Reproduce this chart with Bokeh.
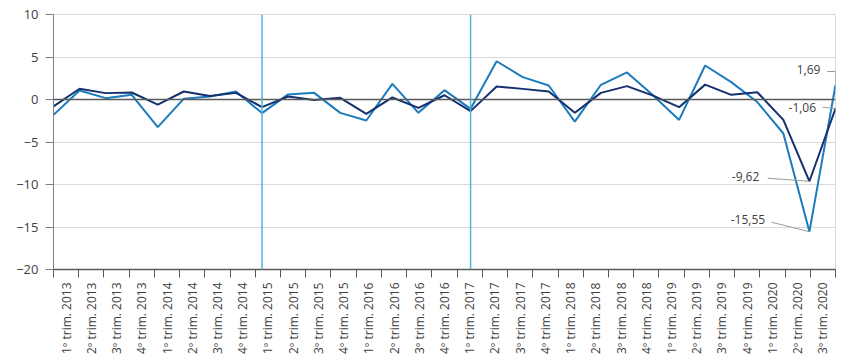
import math
from bokeh.plotting import figure
from bokeh.models import Range1d, FixedTicker, Span, ColumnDataSource
from bokeh.embed import file_html
from bokeh.resources import INLINE
from bokeh.core.properties import value

# ---- data ----
years = [2013, 2014, 2015, 2016, 2017, 2018, 2019, 2020]
quarter_labels = [f"{q}º trim. {y}" for y in years for q in range(1, 5)][:31]

series_dark = [-0.80, 1.26, 0.75, 0.82, -0.60, 0.94, 0.40, 0.78, -0.90, 0.35,
               -0.05, 0.20, -1.70, 0.24, -0.98, 0.50, -1.37, 1.53, 1.25, 0.94,
               -1.55, 0.78, 1.57, 0.45, -0.90, 1.75, 0.55, 0.86, -2.40, -9.62,
               -1.06]
series_light = [-1.80, 1.06, 0.16, 0.55, -3.25, 0.10, 0.35, 0.94, -1.60, 0.60,
                0.78, -1.57, -2.47, 1.84, -1.57, 1.10, -1.10, 4.50, 2.63, 1.65,
                -2.60, 1.73, 3.18, 0.50, -2.40, 4.00, 2.04, -0.30, -4.00, -15.55,
                1.69]
marker_quarters = ["1º trim. 2015", "1º trim. 2017"]

n = len(quarter_labels)
# data points span the full plot width; tick labels sit in n equal slots
xs = [k * n / (n - 1) - 0.5 for k in range(n)]

DARK = "#14306e"
LIGHT = "#1b7bbd"
FONT = "Open Sans"
TXT = "#404040"

p = figure(width=842, height=356, output_backend="svg", toolbar_location=None,
           x_range=Range1d(-0.5, n - 0.5), y_range=Range1d(-20, 10),
           min_border_left=53, min_border_right=7, min_border_top=14,
           min_border_bottom=87)
p.background_fill_color = "white"
p.border_fill_color = "white"
p.outline_line_color = "#d9d9d9"

# grid
p.xgrid.visible = False
p.ygrid.grid_line_color = "#d9d9d9"
p.ygrid.grid_line_width = 1

# y axis
p.yaxis.ticker = FixedTicker(ticks=[-20, -15, -10, -5, 0, 5, 10])
p.yaxis.axis_line_color = "#7f7f7f"
p.yaxis.major_tick_line_color = "#7f7f7f"
p.yaxis.major_tick_out = 8
p.yaxis.major_tick_in = 0
p.yaxis.minor_tick_line_color = None
p.yaxis.major_label_standoff = 7
p.yaxis.major_label_text_font = FONT
p.yaxis.major_label_text_font_size = "13px"
p.yaxis.major_label_text_color = TXT

# x axis
p.xaxis.ticker = FixedTicker(ticks=list(range(n)),
                             minor_ticks=[k - 0.5 for k in range(n + 1)])
p.xaxis.major_label_overrides = {i: lab for i, lab in enumerate(quarter_labels)}
p.xaxis.major_label_orientation = math.pi / 2
p.xaxis.major_tick_line_color = None
p.xaxis.major_tick_out = 8
p.xaxis.major_tick_in = 0
p.xaxis.minor_tick_line_color = "#595959"
p.xaxis.minor_tick_out = 8
p.xaxis.minor_tick_in = 0
p.xaxis.axis_line_color = "#595959"
p.xaxis.axis_line_width = 1.5
p.xaxis.major_label_standoff = 5
p.xaxis.major_label_text_font = FONT
p.xaxis.major_label_text_font_size = "12px"
p.xaxis.major_label_text_color = TXT

# zero line
p.add_layout(Span(location=0, dimension="width", line_color="#595959", line_width=1.5))

# vertical marker lines
for q in marker_quarters:
    k = quarter_labels.index(q)
    p.add_layout(Span(location=xs[k], dimension="height", line_color="#4fb6de",
                      line_width=1.5))

# series
p.line(xs, series_light, line_color=LIGHT, line_width=2)
p.line(xs, series_dark, line_color=DARK, line_width=2)

# annotations (text anchor x/y in axis units, leader path)
last = n - 1
ann = [
    (series_light[last], 29.90, 3.49, [30.17, xs[last], xs[last]], [3.29, 3.29, series_light[last]]),
    (series_dark[last], 29.73, -0.91, [29.99, xs[last]], [-0.91, series_dark[last]]),
    (series_dark[last - 1], 27.48, -9.06, [27.81, xs[last - 1]], [-9.26, series_dark[last - 1]]),
    (series_light[last - 1], 27.71, -14.15, [27.97, xs[last - 1]], [-14.44, series_light[last - 1]]),
]
p.multi_line([a[3] for a in ann], [a[4] for a in ann], line_color="#9a9a9a", line_width=1)
src = ColumnDataSource(dict(
    x=[a[1] for a in ann], y=[a[2] for a in ann],
    t=[f"{a[0]:.2f}".replace(".", ",") for a in ann]))
p.text(x="x", y="y", text="t", source=src, text_align="right", text_baseline="middle",
       text_font=value(FONT), text_font_size="12px", text_color=TXT)

open("out.html", "w").write(file_html(p, INLINE))
